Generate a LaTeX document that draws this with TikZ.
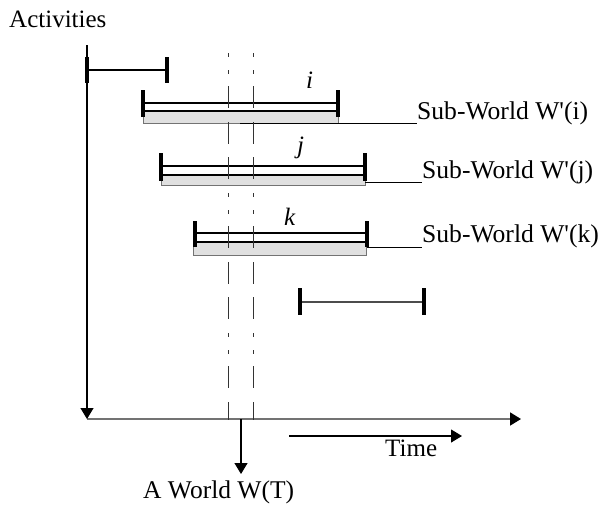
\documentclass[tikz,border=0pt]{standalone}
\usepackage{fontspec}
\setmainfont{Liberation Serif}
\usetikzlibrary{arrows.meta}

\tikzset{
  lbl/.style={inner sep=0pt, anchor=base west, font=\fontsize{25}{30}\selectfont},
  sublbl/.style={lbl, font=\fontsize{25.6}{31}\selectfont},
  tag/.style={inner sep=0pt, anchor=base west, font=\fontsize{25}{30}\selectfont\itshape},
  endbar/.style={line width=4pt, black},
  span/.style={line width=1.2pt, black},
  strip/.style={fill=black!12, draw=black!55, line width=0.8pt},
  axis/.style={line width=1.8pt, black!55, -{Triangle[length=11pt,width=13pt,color=black]}},
  arr/.style={-{Triangle[length=11pt,width=13pt]}, line width=1.2pt, black},
  slice/.style={line width=1pt, black!80,
    dash pattern=on 4pt off 13pt on 4pt off 12pt on 22pt off 14pt on 22pt off 13pt on 22pt off 14pt},
  lead/.style={line width=1pt, black}
}

\begin{document}
\begin{tikzpicture}[x=1pt,y=-1pt]
\useasboundingbox (0,0) rectangle (604,506);

% axes
\node[lbl] (act) at (9,27) {Activities};
\coordinate (o) at (87,419);
\coordinate (vtop) at (87,45);
\coordinate (hend) at (521,419);
\draw[axis] (o) -- (hend);
\draw[arr] (vtop) -- (o);

% short activity at the top left
\coordinate (a1) at (87,70);
\coordinate (a2) at (167,70);
\draw[span] (a1) -- (a2);
\draw[endbar] (87,57) -- (87,83);
\draw[endbar] (167,57) -- (167,83);

% activity i
\draw[strip] (143,111) rectangle (338,123);
\draw[span] (143,103) -- (338,103);
\draw[span] (143,111) -- (338,111);
\draw[endbar] (143,90) -- (143,117);
\draw[endbar] (338,90) -- (338,117);
\node[tag] (ti) at (306,88) {i};
\node[sublbl] (wi) at (417,119) {Sub-World W\textquotesingle(i)};
\coordinate (si) at (240,123);
\coordinate (ei) at (417,123);
\draw[lead] (si) -- (ei);

% activity j
\draw[strip] (161,175) rectangle (365,185);
\draw[span] (161,166) -- (365,166);
\draw[span] (161,175) -- (365,175);
\draw[endbar] (161,153) -- (161,181);
\draw[endbar] (365,153) -- (365,181);
\node[tag] (tj) at (297,153) {j};
\node[sublbl] (wj) at (422,178) {Sub-World W\textquotesingle(j)};
\coordinate (sj) at (365,182);
\coordinate (ej) at (422,182);
\draw[lead] (sj) -- (ej);

% activity k
\draw[strip] (193,242) rectangle (366,255);
\draw[span] (193,233) -- (367,233);
\draw[span] (193,242) -- (367,242);
\draw[endbar] (195,221) -- (195,247);
\draw[endbar] (367,221) -- (367,247);
\node[tag] (tk) at (284,225) {k};
\node[sublbl] (wk) at (422,242) {Sub-World W\textquotesingle(k)};
\coordinate (sk) at (367,247);
\coordinate (ek) at (422,247);
\draw[lead] (sk) -- (ek);

% short activity at the bottom right
\draw[line width=1.8pt, black!70] (300,302) -- (424,302);
\draw[endbar] (300,288) -- (300,315);
\draw[endbar] (424,288) -- (424,315);

% time slice
\draw[slice] (228,53) -- (228,420);
\draw[slice] (253,53) -- (253,420);

% world at time T
\coordinate (wt) at (241,419);
\coordinate (wb) at (241,474);
\draw[arr] (wt) -- (wb);
\node[lbl, font=\fontsize{25.5}{31}\selectfont] (world) at (143,498) {A World W(T)};

% time direction
\coordinate (t1) at (289,436);
\coordinate (t2) at (462,436);
\draw[arr] (t1) -- (t2);
\node[lbl] (time) at (385,456) {Time};
\end{tikzpicture}
\end{document}
